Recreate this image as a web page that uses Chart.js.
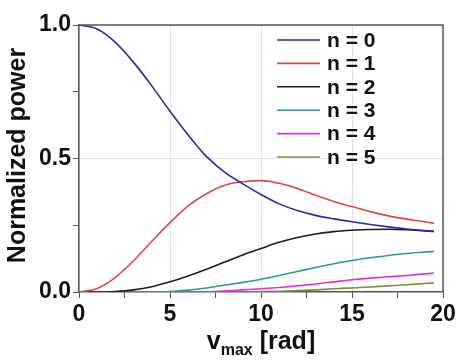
<!DOCTYPE html>
<html>
<head>
<meta charset="utf-8">
<script src="https://cdn.jsdelivr.net/npm/chart.js@4/dist/chart.umd.min.js"></script>
<style>
  html, body { margin: 0; padding: 0; background: #fff; }
  #wrap { width: 465px; height: 362px; position: relative; }
</style>
</head>
<body>
<div id="wrap"><canvas id="c" width="465" height="362"></canvas></div>
<script>
// v_max sample positions [rad] and normalized power per sideband order
const vmax = [0, 1, 2, 3, 4, 5, 6, 7, 8, 9, 10, 11, 12, 13, 14, 15, 16, 17, 18, 19, 19.5];
const n0 = [1.0, 0.985, 0.935, 0.86, 0.772, 0.677, 0.588, 0.508, 0.449, 0.405, 0.365, 0.33, 0.305, 0.287, 0.274, 0.263, 0.253, 0.244, 0.236, 0.23, 0.227];
const n1 = [0, 0.013, 0.055, 0.117, 0.19, 0.26, 0.323, 0.368, 0.4, 0.413, 0.417, 0.407, 0.388, 0.362, 0.339, 0.32, 0.301, 0.285, 0.273, 0.263, 0.257];
const n2 = [0, 0, 0.002, 0.008, 0.02, 0.038, 0.06, 0.085, 0.112, 0.139, 0.163, 0.186, 0.204, 0.217, 0.226, 0.231, 0.234, 0.235, 0.233, 0.229, 0.227];
const n3 = [0, 0, 0, 0, 0, 0.002, 0.007, 0.015, 0.025, 0.036, 0.048, 0.062, 0.077, 0.092, 0.106, 0.118, 0.128, 0.137, 0.144, 0.15, 0.152];
const n4 = [0, 0, 0, 0, 0, 0, 0, 0.001, 0.004, 0.008, 0.012, 0.017, 0.023, 0.03, 0.038, 0.046, 0.052, 0.057, 0.062, 0.068, 0.071];
const n5 = [0, 0, 0, 0, 0, 0, 0, 0, 0, 0, 0.002, 0.003, 0.005, 0.008, 0.012, 0.015, 0.019, 0.023, 0.027, 0.032, 0.034];

const seriesLabels = ['n = 0', 'n = 1', 'n = 2', 'n = 3', 'n = 4', 'n = 5'];
const seriesColors = ['#2b2ba6', '#d9474d', '#1c1c1c', '#2f9894', '#e22fe0', '#87883a'];
const seriesValues = [n0, n1, n2, n3, n4, n5];

const FONT = '"Liberation Sans", Arial, sans-serif';

function toPoints(values) {
  return vmax.map((x, i) => ({ x, y: values[i] }));
}

// frame on top/right, inner legend and the two axis titles (x title has a subscript)
const decorations = {
  id: 'decorations',
  afterDatasetsDraw(chart) {
    const { ctx, chartArea: a } = chart;
    ctx.save();
    ctx.strokeStyle = '#555';
    ctx.lineWidth = 1.5;
    ctx.beginPath();
    ctx.moveTo(a.left, a.top);
    ctx.lineTo(a.right, a.top);
    ctx.lineTo(a.right, a.bottom);
    ctx.stroke();

    // legend
    ctx.font = `bold 21px ${FONT}`;
    ctx.textBaseline = 'middle';
    ctx.textAlign = 'left';
    chart.data.datasets.forEach((ds, i) => {
      const y = 40 + i * 23.4;
      ctx.strokeStyle = ds.borderColor;
      ctx.lineWidth = 1.6;
      ctx.beginPath();
      ctx.moveTo(277, y);
      ctx.lineTo(320, y);
      ctx.stroke();
      ctx.fillStyle = '#111';
      ctx.fillText(ds.label, 327, y + 1);
    });

    // x title: v_max [rad]
    ctx.fillStyle = '#111';
    ctx.textBaseline = 'alphabetic';
    const big = `bold 25px ${FONT}`;
    const small = `bold 16px ${FONT}`;
    ctx.font = big;
    const wV = ctx.measureText('v').width;
    const wRad = ctx.measureText(' [rad]').width;
    ctx.font = small;
    const wMax = ctx.measureText('max').width;
    let x0 = (a.left + a.right) / 2 - (wV + wMax + wRad) / 2;
    ctx.font = big;
    ctx.fillText('v', x0, 349);
    ctx.font = small;
    ctx.fillText('max', x0 + wV, 355);
    ctx.font = big;
    ctx.fillText(' [rad]', x0 + wV + wMax, 349);

    // y title
    ctx.translate(25, (a.top + a.bottom) / 2 - 3);
    ctx.rotate(-Math.PI / 2);
    ctx.textAlign = 'center';
    ctx.font = `bold 25px ${FONT}`;
    ctx.fillText('Normalized power', 0, 0);
    ctx.restore();
  }
};

new Chart(document.getElementById('c').getContext('2d'), {
  type: 'line',
  data: {
    datasets: seriesValues.map((values, i) => ({
      label: seriesLabels[i],
      data: toPoints(values),
      borderColor: seriesColors[i],
      backgroundColor: seriesColors[i],
      borderWidth: 1.6,
      pointRadius: 0,
      cubicInterpolationMode: 'monotone',
      fill: false,
    })),
  },
  options: {
    responsive: false,
    animation: false,
    layout: { padding: { top: 25, right: 22, left: 0, bottom: 0 } },
    scales: {
      x: {
        type: 'linear',
        min: 0,
        max: 20,
        afterFit: (scale) => { scale.height = 70; },
        ticks: {
          stepSize: 2.5,
          autoSkip: false,
          maxRotation: 0,
          padding: 3,
          color: '#111',
          font: { family: FONT, size: 23, weight: 'bold' },
          callback: (v) => (v % 5 === 0 ? String(v) : ''),
        },
        grid: {
          color: (c) => (c.tick && c.tick.value % 5 === 0 ? '#e4e4e4' : 'rgba(0,0,0,0)'),
          tickColor: '#555',
          tickLength: 6,
          lineWidth: 1,
        },
        border: { color: '#555', width: 1.5 },
      },
      y: {
        min: 0,
        max: 1,
        afterFit: (scale) => { scale.width = 79; },
        ticks: {
          stepSize: 0.25,
          autoSkip: false,
          padding: 2,
          color: '#111',
          font: { family: FONT, size: 23, weight: 'bold' },
          callback: (v) => (Math.abs(v * 2 - Math.round(v * 2)) < 1e-9 ? v.toFixed(1) : ''),
        },
        grid: {
          color: (c) => (c.tick && Math.abs(c.tick.value - 0.5) < 1e-9 ? '#e4e4e4' : 'rgba(0,0,0,0)'),
          tickColor: '#555',
          tickLength: 6,
          lineWidth: 1,
        },
        border: { color: '#555', width: 1.5 },
      },
    },
    plugins: {
      legend: { display: false },
      tooltip: { enabled: false },
    },
  },
  plugins: [decorations],
});
</script>
</body>
</html>
